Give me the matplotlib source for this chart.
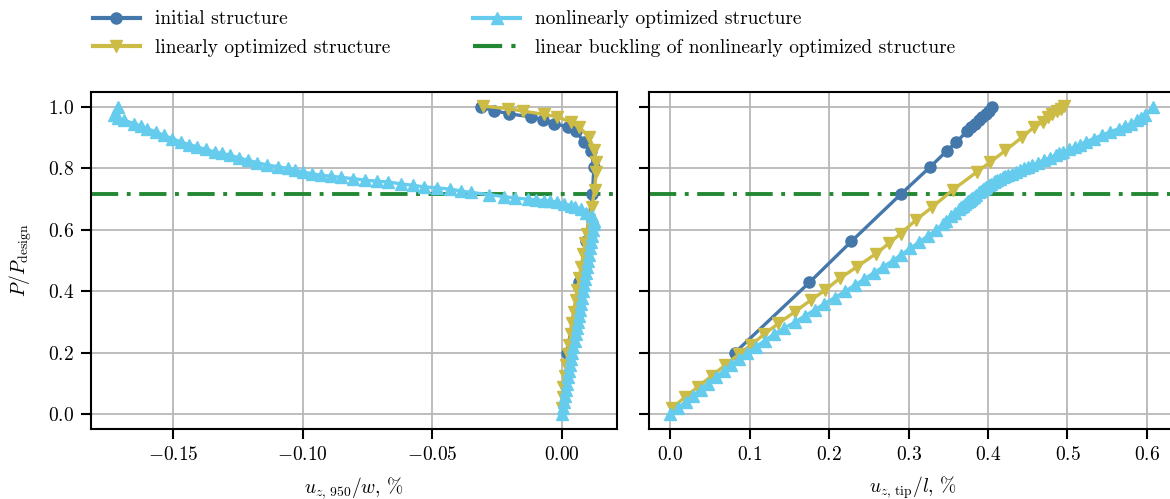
import matplotlib
matplotlib.use("Agg")
import matplotlib.pyplot as plt
from matplotlib.lines import Line2D

# Load factor and displacement data for the three structures
p_init = [0.2, 0.429, 0.563, 0.716, 0.806, 0.857, 0.886, 0.922, 0.935, 0.946,
          0.959, 0.968, 0.978, 0.988, 1.0]
u950_init = [0.0020, 0.0066, 0.0093, 0.0118, 0.0124, 0.0112, 0.0086, 0.0054, 0.0025, -0.0030,
             -0.0074, -0.0119, -0.0203, -0.0260, -0.0312]
utip_init = [0.081, 0.175, 0.228, 0.290, 0.3275, 0.348, 0.360, 0.374, 0.379, 0.384,
             0.389, 0.393, 0.397, 0.401, 0.405]

p_lin = [0.02, 0.055, 0.09, 0.125, 0.16, 0.195, 0.225, 0.26, 0.296, 0.334,
         0.372, 0.404, 0.442, 0.48, 0.523, 0.556, 0.588, 0.632, 0.675, 0.731,
         0.789, 0.821, 0.859, 0.902, 0.935, 0.951, 0.968, 0.976, 0.987, 0.995,
         1.003]
u950_lin = [0.0000, 0.0003, 0.0005, 0.0012, 0.0018, 0.0023, 0.0028, 0.0034, 0.0040, 0.0047,
            0.0054, 0.0060, 0.0067, 0.0075, 0.0083, 0.0090, 0.0097, 0.0106, 0.0116, 0.0127,
            0.0132, 0.0132, 0.0126, 0.0105, 0.0067, 0.0035, -0.0017, -0.0068, -0.0150, -0.0209,
            -0.0305]
utip_lin = [0.002, 0.018, 0.035, 0.052, 0.069, 0.086, 0.101, 0.118, 0.136, 0.157,
            0.177, 0.195, 0.213, 0.235, 0.259, 0.275, 0.290, 0.309, 0.330, 0.356,
            0.386, 0.403, 0.422, 0.443, 0.458, 0.469, 0.476, 0.481, 0.487, 0.492,
            0.496]

p_nonlin = [0.00, 0.02, 0.04, 0.06, 0.08, 0.10, 0.12, 0.14, 0.16, 0.18,
            0.20, 0.22, 0.24, 0.26, 0.28, 0.30, 0.32, 0.34, 0.36, 0.38,
            0.40, 0.42, 0.44, 0.46, 0.48, 0.50, 0.52, 0.54, 0.56, 0.58,
            0.60, 0.62,
            0.63, 0.645, 0.655, 0.667, 0.674, 0.679, 0.685, 0.690, 0.693, 0.695,
            0.698, 0.700, 0.704, 0.708, 0.715, 0.722, 0.727, 0.733, 0.737, 0.740,
            0.745, 0.750, 0.756, 0.759, 0.762,
            0.767, 0.771, 0.775, 0.778, 0.783, 0.789, 0.795, 0.800, 0.806, 0.811,
            0.819, 0.827, 0.835, 0.843, 0.849, 0.854, 0.862, 0.870, 0.878, 0.886,
            0.897, 0.908, 0.919, 0.930, 0.938, 0.946, 0.957, 0.965, 0.973, 1.000]
u950_nonlin = [0.0000, 0.0004, 0.0008, 0.0012, 0.0016, 0.0020, 0.0024, 0.0029, 0.0033, 0.0037,
               0.0041, 0.0045, 0.0049, 0.0053, 0.0057, 0.0061, 0.0065, 0.0069, 0.0073, 0.0077,
               0.0081, 0.0085, 0.0089, 0.0093, 0.0097, 0.0101, 0.0105, 0.0109, 0.0113, 0.0117,
               0.0121, 0.0125,
               0.0125, 0.0115, 0.0095, 0.0073, 0.0050, 0.0035, 0.0010, -0.0017, -0.0045, -0.0068,
               -0.0100, -0.0132, -0.0180, -0.0222, -0.0280, -0.0350, -0.0390, -0.0433, -0.0480, -0.0530,
               -0.0574, -0.0620, -0.0670, -0.0715, -0.0761,
               -0.0806, -0.0851, -0.0890, -0.0929, -0.0965, -0.1000, -0.1030, -0.1058, -0.1097, -0.1136,
               -0.1175, -0.1213, -0.1247, -0.1280, -0.1310, -0.1340, -0.1374, -0.1407, -0.1438, -0.1470,
               -0.1503, -0.1536, -0.1568, -0.1600, -0.1625, -0.1650, -0.1690, -0.1712, -0.1730, -0.1711]
utip_nonlin = [0.000, 0.009, 0.019, 0.028, 0.038, 0.047, 0.057, 0.067, 0.076, 0.086,
               0.097, 0.108, 0.119, 0.130, 0.143, 0.157, 0.169, 0.182, 0.194, 0.207,
               0.220, 0.232, 0.244, 0.256, 0.268, 0.280, 0.291, 0.302, 0.313, 0.324,
               0.335, 0.343,
               0.347, 0.353, 0.358, 0.363, 0.366, 0.368, 0.371, 0.373, 0.375, 0.376,
               0.377, 0.378, 0.380, 0.382, 0.385, 0.388, 0.391, 0.394, 0.396, 0.398,
               0.401, 0.404, 0.407, 0.409, 0.411,
               0.415, 0.419, 0.422, 0.425, 0.430, 0.435, 0.440, 0.445, 0.450, 0.455,
               0.463, 0.470, 0.478, 0.485, 0.490, 0.495, 0.502, 0.509, 0.516, 0.523,
               0.533, 0.543, 0.554, 0.565, 0.573, 0.580, 0.588, 0.593, 0.598, 0.608]

p_buckling = 0.717

labels = ["initial structure", "linearly optimized structure",
          "nonlinearly optimized structure",
          "linear buckling of nonlinearly optimized structure"]

c_init = "#4477AA"
c_lin = "#CCBB44"
c_nonlin = "#66CCEE"
c_buck = "#228833"

plt.rcParams.update({
    "font.family": "serif",
    "font.serif": ["cmr10"],
    "mathtext.fontset": "cm",
    "axes.formatter.use_mathtext": True,
    "font.size": 14,
    "axes.linewidth": 1.5,
    "xtick.major.width": 1.5,
    "ytick.major.width": 1.5,
    "xtick.major.size": 7,
    "ytick.major.size": 7,
    "grid.color": "#b8b8b8",
    "grid.linewidth": 1.3,
})

fig = plt.figure(figsize=(11.7, 4.99), dpi=100)
ax1 = fig.add_axes([91 / 1170, 70 / 499, 526 / 1170, 337 / 499])
ax2 = fig.add_axes([649 / 1170, 70 / 499, 528 / 1170, 337 / 499], sharey=ax1)

lw = 2.4
ms = 8
buck_dash = (0, (7.0, 2.2, 1.0, 2.2))

def draw(ax, x_init, x_lin, x_nonlin):
    ax.grid(True, zorder=0)
    ax.set_axisbelow(True)
    ax.axhline(p_buckling, color=c_buck, lw=lw + 0.4, linestyle=buck_dash, zorder=1.5)
    ax.plot(x_init, p_init, color=c_init, lw=lw, marker="o", ms=ms, zorder=2)
    ax.plot(x_lin, p_lin, color=c_lin, lw=lw, marker="v", ms=ms, zorder=2.1)
    ax.plot(x_nonlin, p_nonlin, color=c_nonlin, lw=lw, marker="^", ms=ms, zorder=2.2)

draw(ax1, u950_init, u950_lin, u950_nonlin)
draw(ax2, utip_init, utip_lin, utip_nonlin)

ax1.set_xlim(-0.1817, 0.0213)
ax1.set_xticks([-0.15, -0.10, -0.05, 0.00])
ax1.set_xticklabels([r"$-0.15$", r"$-0.10$", r"$-0.05$", r"$0.00$"])
ax2.set_xlim(-0.027, 0.638)
ax2.set_xticks([0.0, 0.1, 0.2, 0.3, 0.4, 0.5, 0.6])
ax1.set_ylim(-0.048, 1.049)
ax1.set_yticks([0.0, 0.2, 0.4, 0.6, 0.8, 1.0])
ax2.tick_params(labelleft=False)
for ax in (ax1, ax2):
    ax.tick_params(pad=5)

ax1.set_xlabel(r"$u_{z,\,950}/w$, %", labelpad=8)
ax2.set_xlabel(r"$u_{z,\,\mathrm{tip}}/l$, %", labelpad=8)
ax1.set_ylabel(r"$P/P_{\mathrm{design}}$", labelpad=10)

handles = [
    Line2D([], [], color=c_init, lw=lw + 0.6, marker="o", ms=ms),
    Line2D([], [], color=c_lin, lw=lw + 0.6, marker="v", ms=ms),
    Line2D([], [], color=c_nonlin, lw=lw + 0.6, marker="^", ms=ms),
    Line2D([], [], color=c_buck, lw=lw + 0.6, linestyle=buck_dash),
]
fig.legend(handles, labels, ncol=2, loc="upper left",
           bbox_to_anchor=(93 / 1170, 0.979), frameon=False, borderpad=0,
           handlelength=2.4, handletextpad=0.77, columnspacing=4.3,
           labelspacing=0.55, borderaxespad=0)

fig.savefig("out.png", dpi=100)
